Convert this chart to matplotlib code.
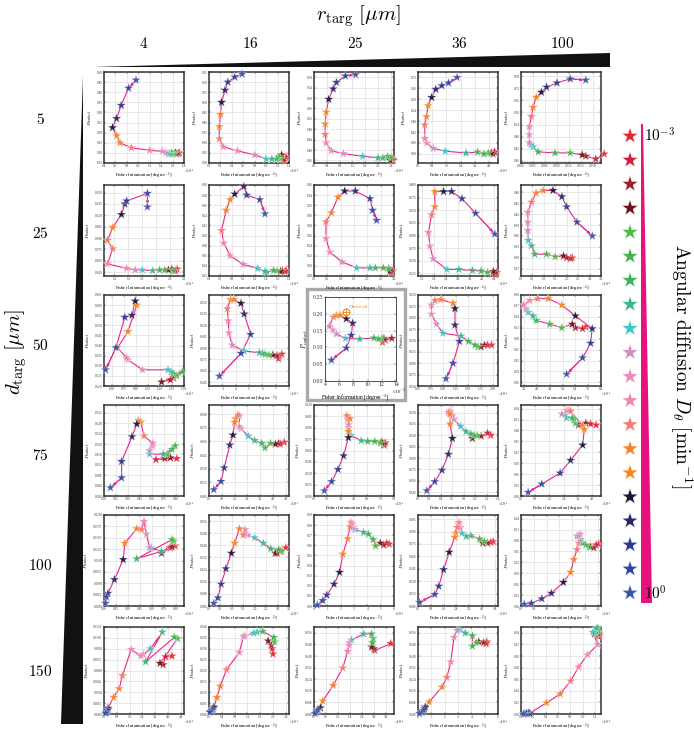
import numpy as np
import matplotlib
matplotlib.use('Agg')
import matplotlib.pyplot as plt
from matplotlib.patches import Polygon, Rectangle
from matplotlib.ticker import MaxNLocator

plt.rcParams['font.family'] = ['Liberation Serif', 'DejaVu Serif']
plt.rcParams['mathtext.fontset'] = 'cm'

# column / row headers
r_targ = ['4', '16', '25', '36', '100']
d_targ = ['5', '25', '50', '75', '100', '150']

# star colours, D_theta from 1e-3 (first) to 1e0 (last)
star_colors = ['#e8262f', '#d21f35', '#a11d25', '#6e1118', '#4cbb47', '#45b34b',
               '#3db35e', '#39b890', '#3ec4c9', '#d38cc0', '#ea8bbd', '#ef86a8',
               '#f37a6e', '#f4822f', '#f7861b', '#15163a', '#262766', '#2c3990',
               '#34459e', '#3a54a8']

# ---- data: fisher information (fi) and P_contact (pc), one pair per panel (row, col)
fi_00 = [1.72, 1.70, 1.67, 1.65, 1.63, 1.60, 1.58, 1.55, 1.52, 1.48, 1.42, 1.20, 0.88, 0.68, 0.62, 0.55, 0.62, 0.70, 0.83, 0.96]
pc_00 = [0.10, 0.098, 0.095, 0.10, 0.098, 0.095, 0.10, 0.095, 0.096, 0.10, 0.107, 0.113, 0.125, 0.15, 0.185, 0.225, 0.27, 0.335, 0.42, 0.46]
fi_01 = [1.35, 1.32, 1.30, 1.27, 1.25, 1.22, 1.18, 1.10, 1.00, 0.80, 0.50, 0.25, 0.18, 0.18, 0.20, 0.22, 0.28, 0.33, 0.45, 0.58]
pc_01 = [0.23, 0.21, 0.22, 0.24, 0.22, 0.23, 0.22, 0.22, 0.22, 0.24, 0.26, 0.28, 0.32, 0.38, 0.44, 0.50, 0.56, 0.60, 0.625, 0.64]
fi_02 = [2.48, 2.45, 2.42, 2.38, 2.40, 2.30, 2.15, 2.00, 1.52, 0.92, 0.54, 0.38, 0.35, 0.35, 0.38, 0.46, 0.60, 0.70, 0.98, 1.30]
pc_02 = [0.36, 0.365, 0.37, 0.36, 0.37, 0.375, 0.37, 0.37, 0.376, 0.386, 0.397, 0.427, 0.46, 0.50, 0.546, 0.595, 0.635, 0.66, 0.685, 0.69]
fi_03 = [4.35, 4.30, 4.22, 4.12, 3.95, 3.70, 3.35, 2.70, 1.53, 0.86, 0.50, 0.38, 0.38, 0.48, 0.57, 0.77, 1.00, 1.34, 1.72, 2.20]
pc_03 = [0.305, 0.31, 0.30, 0.305, 0.305, 0.30, 0.31, 0.305, 0.315, 0.33, 0.36, 0.385, 0.46, 0.505, 0.565, 0.61, 0.655, 0.675, 0.69, 0.72]
fi_04 = [0.0208, 0.0187, 0.0162, 0.0153, 0.0123, 0.0085, 0.0043, 0.0030, 0.0025, 0.0021, 0.0021, 0.0021, 0.0026, 0.0030, 0.0038, 0.0051, 0.0064, 0.0090, 0.0123, 0.0162]
pc_04 = [0.395, 0.37, 0.384, 0.39, 0.40, 0.40, 0.405, 0.43, 0.44, 0.45, 0.49, 0.53, 0.58, 0.625, 0.675, 0.70, 0.725, 0.746, 0.766, 0.76]

fi_10 = [3.00, 2.95, 2.85, 2.75, 2.90, 2.65, 2.50, 2.30, 2.00, 1.80, 1.55, 1.00, 1.15, 1.00, 1.15, 1.40, 1.50, 1.55, 2.15, 2.15]
pc_10 = [0.049, 0.047, 0.049, 0.048, 0.047, 0.048, 0.048, 0.047, 0.048, 0.048, 0.050, 0.056, 0.076, 0.087, 0.104, 0.121, 0.135, 0.139, 0.149, 0.131]
fi_11 = [1.75, 1.73, 1.68, 1.65, 1.59, 1.53, 1.41, 1.38, 1.25, 1.00, 0.77, 0.66, 0.62, 0.70, 0.77, 0.85, 1.01, 1.06, 1.29, 1.38]
pc_11 = [0.131, 0.129, 0.130, 0.129, 0.130, 0.131, 0.127, 0.129, 0.135, 0.143, 0.160, 0.185, 0.210, 0.250, 0.271, 0.282, 0.297, 0.280, 0.271, 0.243]
fi_12 = [2.90, 2.95, 2.90, 2.85, 2.80, 2.60, 2.30, 2.10, 1.60, 1.05, 0.60, 0.45, 0.45, 0.65, 0.90, 1.15, 1.55, 2.10, 2.20, 2.35]
pc_12 = [0.186, 0.19, 0.188, 0.19, 0.195, 0.196, 0.196, 0.196, 0.196, 0.208, 0.227, 0.254, 0.287, 0.305, 0.336, 0.348, 0.348, 0.333, 0.31, 0.29]
fi_13 = [4.88, 4.92, 4.84, 4.76, 4.48, 4.16, 3.72, 3.04, 2.44, 1.76, 1.60, 1.52, 1.68, 1.84, 1.84, 2.28, 2.68, 3.20, 3.88, 4.84]
pc_13 = [0.222, 0.227, 0.225, 0.229, 0.227, 0.230, 0.231, 0.233, 0.233, 0.254, 0.279, 0.306, 0.341, 0.357, 0.387, 0.387, 0.387, 0.373, 0.344, 0.303]
fi_14 = [2.24, 2.17, 2.00, 1.86, 1.50, 1.12, 0.60, 0.46, 0.32, 0.30, 0.30, 0.30, 0.46, 0.66, 0.98, 1.40, 1.79, 2.00, 2.45, 3.12]
pc_14 = [0.30, 0.298, 0.30, 0.305, 0.303, 0.31, 0.31, 0.333, 0.348, 0.375, 0.398, 0.425, 0.453, 0.478, 0.485, 0.485, 0.468, 0.44, 0.398, 0.36]

fi_20 = [1.37, 1.37, 1.33, 1.22, 1.41, 1.48, 1.37, 1.34, 1.30, 0.98, 0.80, 0.78, 0.67, 0.80, 0.91, 0.89, 0.85, 0.76, 0.65, 0.52]
pc_20 = [0.025, 0.024, 0.023, 0.022, 0.025, 0.027, 0.026, 0.027, 0.028, 0.028, 0.033, 0.034, 0.039, 0.047, 0.060, 0.062, 0.055, 0.054, 0.039, 0.028]
fi_21 = [7.46, 7.22, 7.10, 6.80, 6.50, 6.20, 6.02, 5.78, 4.64, 3.74, 3.50, 3.44, 3.38, 3.62, 3.86, 4.40, 4.64, 5.12, 4.40, 2.78]
pc_21 = [0.082, 0.076, 0.080, 0.081, 0.081, 0.082, 0.083, 0.084, 0.086, 0.094, 0.110, 0.126, 0.142, 0.154, 0.154, 0.149, 0.135, 0.108, 0.083, 0.053]
fi_22 = [12.1, 12.5, 13.4, 12.3, 12.0, 11.5, 10.9, 8.9, 6.9, 5.6, 5.1, 4.6, 5.2, 5.6, 6.1, 7.0, 7.9, 7.7, 7.0, 4.9]
pc_22 = [0.115, 0.122, 0.127, 0.126, 0.127, 0.125, 0.128, 0.125, 0.127, 0.14, 0.152, 0.163, 0.19, 0.195, 0.196, 0.185, 0.172, 0.136, 0.098, 0.062]
fi_23 = [1.97, 1.89, 1.83, 1.76, 1.70, 1.64, 1.51, 1.36, 1.00, 0.87, 0.77, 0.77, 0.84, 0.96, 1.20, 1.24, 1.24, 1.33, 1.20, 1.06]
pc_23 = [0.14, 0.14, 0.14, 0.136, 0.136, 0.14, 0.148, 0.16, 0.166, 0.186, 0.208, 0.228, 0.238, 0.24, 0.232, 0.22, 0.184, 0.148, 0.10, 0.066]
fi_24 = [7.05, 6.85, 6.40, 6.20, 5.55, 4.80, 3.95, 3.75, 3.45, 3.30, 3.15, 3.55, 4.05, 4.70, 5.55, 6.40, 7.45, 7.35, 6.85, 5.85]
pc_24 = [0.2125, 0.2075, 0.21, 0.22, 0.21, 0.22, 0.23, 0.2425, 0.2525, 0.2625, 0.2725, 0.285, 0.29, 0.29, 0.2725, 0.2425, 0.2075, 0.1675, 0.1275, 0.0825]

fi_30 = [0.91, 0.65, 0.76, 0.83, 0.79, 0.89, 0.85, 0.74, 0.57, 0.57, 0.61, 0.61, 0.50, 0.46, 0.43, 0.41, 0.35, 0.22, 0.22, 0.08]
pc_30 = [0.0144, 0.014, 0.0144, 0.0147, 0.0161, 0.0193, 0.0179, 0.0161, 0.0161, 0.0175, 0.0193, 0.0203, 0.0231, 0.0284, 0.029, 0.0277, 0.0228, 0.0133, 0.007, 0.0032]
fi_31 = [4.70, 4.45, 4.35, 4.15, 3.85, 3.50, 3.30, 2.85, 2.45, 2.00, 1.90, 1.90, 1.80, 1.65, 1.60, 1.50, 1.30, 0.95, 0.75, 0.30]
pc_31 = [0.059, 0.057, 0.058, 0.057, 0.058, 0.053, 0.058, 0.061, 0.066, 0.074, 0.076, 0.088, 0.089, 0.085, 0.081, 0.067, 0.056, 0.031, 0.016, 0.007]
fi_32 = [7.92, 8.01, 7.83, 7.65, 7.47, 6.84, 6.03, 5.31, 4.14, 3.87, 3.87, 3.78, 3.69, 4.05, 3.87, 3.87, 3.33, 2.70, 1.98, 1.17]
pc_32 = [0.067, 0.070, 0.068, 0.071, 0.070, 0.072, 0.072, 0.073, 0.080, 0.090, 0.094, 0.101, 0.106, 0.102, 0.085, 0.077, 0.053, 0.035, 0.019, 0.007]
fi_33 = [1.274, 1.218, 1.106, 0.952, 1.036, 0.98, 0.924, 0.84, 0.742, 0.63, 0.602, 0.56, 0.532, 0.56, 0.56, 0.602, 0.532, 0.42, 0.294, 0.154]
pc_33 = [0.120, 0.123, 0.119, 0.116, 0.120, 0.120, 0.122, 0.125, 0.132, 0.141, 0.146, 0.152, 0.150, 0.148, 0.135, 0.116, 0.095, 0.074, 0.059, 0.047]
fi_34 = [4.23, 3.92, 3.65, 3.24, 3.06, 2.97, 2.88, 2.57, 2.48, 2.30, 2.70, 2.57, 2.79, 3.47, 3.56, 3.47, 2.79, 2.20, 1.17, 0.40]
pc_34 = [0.195, 0.198, 0.200, 0.195, 0.200, 0.210, 0.215, 0.215, 0.223, 0.225, 0.235, 0.235, 0.233, 0.193, 0.183, 0.140, 0.098, 0.063, 0.033, 0.010]

fi_40 = [0.89, 0.83, 0.85, 0.72, 0.87, 0.85, 0.41, 0.72, 0.59, 0.57, 0.53, 0.50, 0.47, 0.41, 0.26, 0.24, 0.13, 0.05, 0.03, 0.02]
pc_40 = [0.0132, 0.0128, 0.013, 0.0116, 0.0142, 0.0146, 0.0104, 0.012, 0.0128, 0.0128, 0.0158, 0.0186, 0.0168, 0.017, 0.0138, 0.0102, 0.0058, 0.0028, 0.002, 0.0006]
fi_41 = [3.36, 3.12, 2.98, 2.90, 3.18, 3.05, 2.70, 2.38, 2.00, 1.68, 1.58, 1.58, 1.50, 1.33, 1.12, 0.98, 0.74, 0.53, 0.39, 0.21]
pc_41 = [0.0384, 0.036, 0.0348, 0.0348, 0.036, 0.0372, 0.0378, 0.0414, 0.045, 0.0468, 0.048, 0.0504, 0.0468, 0.051, 0.0414, 0.0348, 0.0246, 0.0144, 0.0054, 0.0018]
fi_42 = [5.64, 5.46, 5.22, 4.98, 4.62, 4.44, 4.08, 3.72, 3.06, 2.94, 2.88, 2.76, 2.70, 2.52, 2.16, 1.92, 1.50, 0.96, 0.66, 0.24]
pc_42 = [0.0612, 0.0621, 0.0603, 0.0621, 0.0594, 0.0657, 0.0711, 0.0729, 0.0756, 0.0774, 0.081, 0.0828, 0.0783, 0.0666, 0.0513, 0.0333, 0.0216, 0.0108, 0.0054, 0.0009]
fi_43 = [4.70, 4.55, 4.35, 4.05, 4.15, 3.85, 3.30, 3.00, 2.75, 2.65, 2.55, 2.55, 2.45, 2.35, 2.30, 1.95, 1.60, 1.30, 1.05, 0.10]
pc_43 = [0.078, 0.077, 0.076, 0.076, 0.078, 0.081, 0.085, 0.084, 0.088, 0.095, 0.099, 0.101, 0.095, 0.088, 0.083, 0.065, 0.044, 0.024, 0.014, 0.0044]
fi_44 = [2.425, 2.35, 2.275, 2.175, 2.125, 2.025, 1.925, 1.85, 1.75, 1.85, 1.80, 1.80, 1.75, 1.65, 1.55, 1.325, 0.95, 0.65, 0.325, 0.10]
pc_44 = [0.170, 0.1675, 0.160, 0.1625, 0.1625, 0.1675, 0.1725, 0.1825, 0.1925, 0.1975, 0.1925, 0.1725, 0.155, 0.1275, 0.0925, 0.065, 0.035, 0.020, 0.0075, 0.005]

fi_50 = [4.25, 3.85, 3.70, 3.50, 4.60, 4.40, 2.60, 3.65, 2.90, 2.45, 2.30, 1.70, 1.15, 0.95, 0.60, 0.25, 0.25, 0.20, 0.15, 0.10]
pc_50 = [0.0080, 0.0079, 0.0068, 0.0070, 0.0104, 0.0106, 0.0072, 0.0113, 0.0090, 0.0082, 0.0080, 0.0089, 0.0053, 0.0035, 0.0023, 0.0008, 0.0006, 0.0005, 0.0002, 0.0001]
fi_51 = [2.0, 1.975, 1.95, 1.85, 2.05, 2.025, 1.675, 1.5, 1.4, 1.125, 1.075, 0.95, 0.55, 0.35, 0.25, 0.15, 0.125, 0.1, 0.05, 0.025]
pc_51 = [0.0276, 0.030, 0.0316, 0.0336, 0.0332, 0.0352, 0.038, 0.0376, 0.0372, 0.036, 0.0356, 0.0284, 0.0204, 0.0128, 0.0076, 0.0032, 0.0024, 0.002, 0.0012, 0.0008]
fi_52 = [3.84, 3.04, 3.0, 2.88, 2.96, 2.92, 2.88, 2.48, 1.88, 1.76, 1.76, 1.68, 1.44, 0.96, 0.44, 0.32, 0.20, 0.16, 0.12, 0.04]
pc_52 = [0.0486, 0.0438, 0.045, 0.0462, 0.0522, 0.0492, 0.0552, 0.0552, 0.051, 0.0492, 0.0474, 0.0432, 0.0318, 0.0198, 0.009, 0.0042, 0.003, 0.0024, 0.0012, 0.0003]
fi_53 = [5.16, 5.10, 4.92, 4.56, 4.38, 4.08, 4.08, 3.54, 3.12, 2.94, 2.70, 2.46, 2.16, 1.80, 0.84, 0.54, 0.48, 0.42, 0.30, 0.12]
pc_53 = [0.0498, 0.0486, 0.0492, 0.0498, 0.0492, 0.0468, 0.054, 0.0558, 0.0582, 0.0576, 0.0528, 0.036, 0.0252, 0.0186, 0.0084, 0.0048, 0.0036, 0.0024, 0.0012, 0.0003]
fi_54 = [1.261, 1.274, 1.248, 1.196, 1.222, 1.261, 1.248, 1.222, 1.17, 1.248, 1.079, 0.936, 0.806, 0.637, 0.416, 0.143, 0.117, 0.091, 0.065, 0.039]
pc_54 = [0.1335, 0.1365, 0.1395, 0.138, 0.1395, 0.1425, 0.1485, 0.147, 0.141, 0.12, 0.102, 0.081, 0.057, 0.0345, 0.0195, 0.0015, 0.0015, 0.0008, 0.0005, 0.0003]

panels = {
    (0, 0): (fi_00, pc_00), (0, 1): (fi_01, pc_01), (0, 2): (fi_02, pc_02), (0, 3): (fi_03, pc_03), (0, 4): (fi_04, pc_04),
    (1, 0): (fi_10, pc_10), (1, 1): (fi_11, pc_11), (1, 2): (fi_12, pc_12), (1, 3): (fi_13, pc_13), (1, 4): (fi_14, pc_14),
    (2, 0): (fi_20, pc_20), (2, 1): (fi_21, pc_21), (2, 2): (fi_22, pc_22), (2, 3): (fi_23, pc_23), (2, 4): (fi_24, pc_24),
    (3, 0): (fi_30, pc_30), (3, 1): (fi_31, pc_31), (3, 2): (fi_32, pc_32), (3, 3): (fi_33, pc_33), (3, 4): (fi_34, pc_34),
    (4, 0): (fi_40, pc_40), (4, 1): (fi_41, pc_41), (4, 2): (fi_42, pc_42), (4, 3): (fi_43, pc_43), (4, 4): (fi_44, pc_44),
    (5, 0): (fi_50, pc_50), (5, 1): (fi_51, pc_51), (5, 2): (fi_52, pc_52), (5, 3): (fi_53, pc_53), (5, 4): (fi_54, pc_54),
}

# axis limits and x-scale exponent per panel
x_lims = [[(0.4, 1.8), (0, 1.4), (0, 2.5), (0, 4.5), (0, 0.02)],
          [(0.9, 3.2), (0.4, 1.8), (0, 3), (1, 5), (0, 3.5)],
          [(0.5, 1.5), (2, 8), (4, 14), (0.5, 2.1), (3, 8)],
          [(0, 1), (0, 5), (0, 9), (0, 1.4), (0, 4.5)],
          [(0, 1), (0, 3.5), (0, 6), (0, 5), (0, 2.5)],
          [(0, 5), (0, 2.5), (0, 4), (0, 6), (0, 1.3)]]
y_lims = [[(0.05, 0.5), (0.2, 0.65), (0.35, 0.7), (0.25, 0.75), (0.35, 0.8)],
          [(0.04, 0.16), (0.12, 0.30), (0.18, 0.36), (0.22, 0.40), (0.25, 0.5)],
          [(0.02, 0.065), (0.04, 0.16), (0, 0.25), (0.05, 0.25), (0.05, 0.3)],
          [(0, 0.035), (0, 0.1), (0, 0.12), (0.04, 0.16), (0, 0.25)],
          [(0, 0.02), (0, 0.06), (0, 0.09), (0, 0.11), (0, 0.25)],
          [(0, 0.012), (0, 0.04), (0, 0.06), (0, 0.06), (0, 0.15)]]
x_exp = [[-3, -3, -3, -3, None], [-3, -3, -3, -3, -3], [-4, -5, -5, -4, -4],
         [-4, -5, -5, -4, -4], [-4, -5, -5, -5, -4], [-4, -4, -4, -5, -3]]

W, H = 694, 731
fig = plt.figure(figsize=(W / 100, H / 100), dpi=100)

# overlay in pixel coordinates for wedges, labels and the D_theta key
ov = fig.add_axes([0, 0, 1, 1], zorder=-1)
ov.set_xlim(0, W)
ov.set_ylim(H, 0)
ov.axis('off')

ov.add_patch(Polygon([(93, 67), (610, 53), (610, 67)], closed=True, color='#111111', lw=0))
ov.add_patch(Polygon([(83, 76), (83, 724), (61, 724)], closed=True, color='#111111', lw=0))
ov.text(358, 16, r'$r_{\rm targ}\ [\mu m]$', fontsize=15, ha='center', va='center')
col_centers = [144, 250, 355, 459, 562]
for xc, lab in zip(col_centers, r_targ):
    ov.text(xc, 43, '$' + lab + '$', fontsize=11, ha='center', va='center')
row_centers = [119, 233, 345, 455, 565, 672]
for yc, lab in zip(row_centers, d_targ):
    ov.text(40, yc, '$' + lab + '$', fontsize=11, ha='center', va='center')
ov.text(16, 352, r'$d_{\rm targ}\ [\mu m]$', fontsize=15, ha='center', va='center', rotation=90)

# D_theta key
key_y = np.linspace(136, 593, len(star_colors))
ov.scatter(np.full(len(star_colors), 630), key_y, c=star_colors, marker='*', s=150,
           edgecolors='white', linewidths=0.3, clip_on=False)
ov.add_patch(Polygon([(641, 124), (643, 124), (652, 603), (641, 603)], closed=True, color='#e8127f', lw=0))
ov.text(644, 136, r'$10^{-3}$', fontsize=11, ha='left', va='center')
ov.text(644, 594, r'$10^{0}$', fontsize=11, ha='left', va='center')
ov.text(681, 366, r'$\mathrm{Angular\ diffusion}\ D_\theta\ [\mathrm{min}^{-1}]$', fontsize=14,
        ha='center', va='center', rotation=-90)

# highlighted (observed) panel frame
ov.add_patch(Rectangle((307, 289), 98, 111, fill=False, ec='#a9a9a9', lw=2.4))

col_left = [104, 209, 314, 418, 521]
row_top = [72, 185, 295, 405, 515, 627]
row_h = [91, 91, 91, 91, 91, 87]
aw = 80

for (r, c), (fi, pc) in panels.items():
    big = (r, c) == (2, 2)
    if big:
        x0, y0, w, h = 325, 297, 71, 84
    else:
        x0, y0, w, h = col_left[c], row_top[r], aw, row_h[r]
    ax = fig.add_axes([x0 / W, 1 - (y0 + h) / H, w / W, h / H])
    ax.set_xlim(*x_lims[r][c])
    ax.set_ylim(*y_lims[r][c])
    ax.xaxis.set_major_locator(MaxNLocator(6 if big else 7))
    ax.yaxis.set_major_locator(MaxNLocator(6 if big else 9))
    ax.grid(True, color='#d9d9d9', lw=0.4)
    ax.set_axisbelow(True)
    for s in ax.spines.values():
        s.set_color('#333333')
        s.set_linewidth(0.6 if big else 1.1)
    fs = 4.2 if big else 2.4
    ax.tick_params(labelsize=fs, length=1.2, width=0.3, pad=1, direction='in',
                   top=True, right=True, colors='#333333')
    ax.set_xlabel(r'Fisher Information [degree$^{-2}$]', fontsize=4.0 if big else 3.3, labelpad=1.2)
    ax.set_ylabel(r'$P_{\rm contact}$', fontsize=4.6 if big else 3.6, labelpad=2)
    if x_exp[r][c] is not None:
        if big:
            ax.xaxis.set_label_coords(0.42, -0.14)
            ax.text(0.93, -0.14, r'$\times10^{%d}$' % x_exp[r][c], transform=ax.transAxes,
                    fontsize=3.4, ha='left', va='center')
        else:
            ax.text(1.0, -0.055, r'$\times10^{%d}$' % x_exp[r][c], transform=ax.transAxes,
                    fontsize=fs, ha='left', va='top')

    ax.plot(fi, pc, color='#f0208a', lw=0.8, zorder=2)
    ax.annotate('', xy=(fi[-1], pc[-1]), xytext=(fi[-2], pc[-2]),
                arrowprops=dict(arrowstyle='-|>', color='#f0208a', lw=0.7, mutation_scale=4),
                zorder=2)
    ax.scatter(fi, pc, c=star_colors, marker='*', s=52, edgecolors='white', linewidths=0.2,
               alpha=0.92, zorder=3, clip_on=False)
    if big:
        ax.plot(6.9, 0.205, 'o', mfc='none', mec='#f7861b', ms=5, mew=0.8, zorder=4)
        ax.plot(6.9, 0.205, '+', color='#f7861b', ms=6, mew=0.6, zorder=4)
        ax.text(7.4, 0.218, 'Observed', color='#f7861b', fontsize=3.6, zorder=4)

fig.savefig('out.png', dpi=100)
